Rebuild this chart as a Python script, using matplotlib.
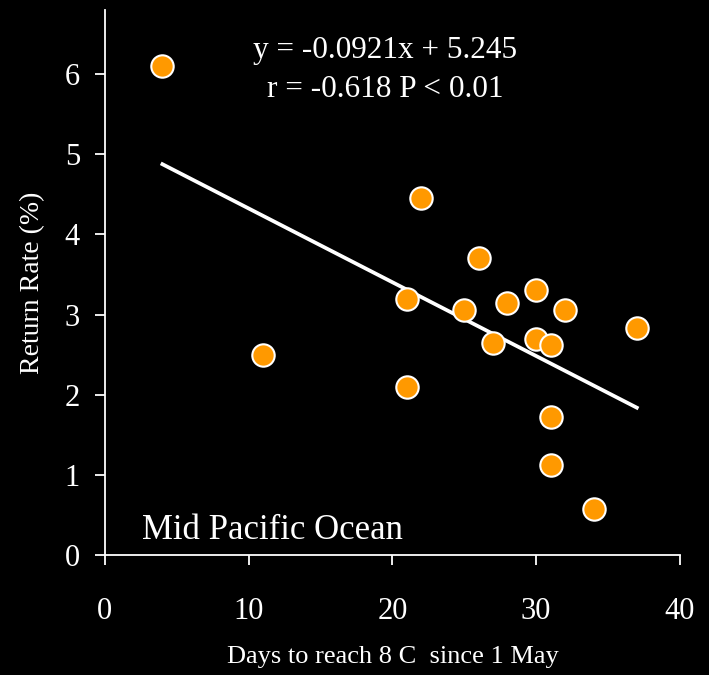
import numpy as np
import matplotlib.pyplot as plt

plt.rcParams["font.family"] = ["Liberation Serif", "DejaVu Serif"]

days = [4, 11, 21, 21, 22, 25, 26, 27, 28, 30, 30, 31, 32, 31, 31, 34, 37]
return_rate = [6.1, 2.5, 3.2, 2.1, 4.45, 3.06, 3.7, 2.65, 3.15, 3.3, 2.7,
               2.62, 3.06, 1.72, 1.12, 0.57, 2.83]
slope = -0.0921
intercept = 5.245
fit_x = [4, 37]
x_ticks = [0, 10, 20, 30, 40]
y_ticks = [0, 1, 2, 3, 4, 5, 6]

fig = plt.figure(figsize=(7.09, 6.75), dpi=100, facecolor="black")
ax = fig.add_axes([0.148, 0.178, 0.811, 0.807])
ax.set_facecolor("black")

fit_y = [slope * x + intercept for x in fit_x]
ax.plot(fit_x, fit_y, color="white", linewidth=2.7, zorder=2)
ax.scatter(days, return_rate, s=260, color="#FF9900", edgecolors="white",
           linewidths=1.5, zorder=3)

ax.set_xlim(0, 40)
ax.set_ylim(0, 6.8)
ax.set_xticks(x_ticks)
ax.set_yticks(y_ticks)

for side in ["top", "right"]:
    ax.spines[side].set_visible(False)
for side in ["left", "bottom"]:
    ax.spines[side].set_color("white")
    ax.spines[side].set_linewidth(1.3)

ax.tick_params(colors="white", labelsize=22, length=7, width=1.3,
               direction="out")
ax.tick_params(axis="x", pad=23)
ax.tick_params(axis="y", pad=11)

ax.set_xlabel("Days to reach 8 C  since 1 May", color="white", fontsize=19,
              labelpad=15)
ax.set_ylabel("Return Rate (%)", color="white", fontsize=20, labelpad=14)

ax.text(19.5, 6.29, "y = -0.0921x + 5.245", color="white", fontsize=22.5,
        ha="center", va="center")
ax.text(19.5, 5.81, "r = -0.618 P < 0.01", color="white", fontsize=22.5,
        ha="center", va="center")
ax.text(2.6, 0.31, "Mid Pacific Ocean", color="white", fontsize=25,
        ha="left", va="center")

fig.savefig("out.png", dpi=100, facecolor="black")
